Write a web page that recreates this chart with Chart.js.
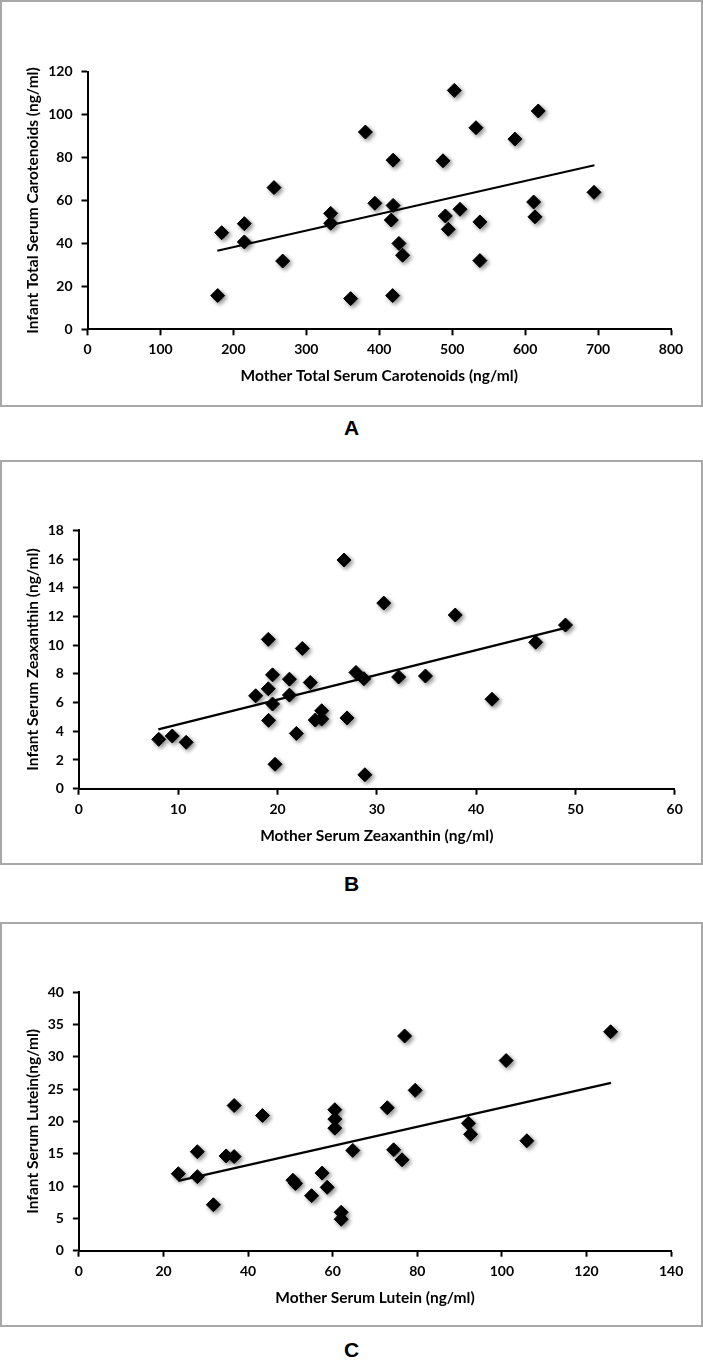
<!DOCTYPE html>
<html>
<head>
<meta charset="utf-8">
<script src="https://cdn.jsdelivr.net/npm/chart.js@4.4.0/dist/chart.umd.min.js"></script>
<style>
  body { margin: 0; width: 703px; height: 1360px; background: #fff; position: relative; overflow: hidden; }
  .box { position: absolute; left: 0; width: 703px; box-sizing: border-box; border: 2px solid #a8a8a8; }
  .box canvas { display: block; }
  .tag { position: absolute; left: 0; width: 703px; text-align: center; line-height: 24px;
         font: bold 21px "Liberation Sans", Arial, sans-serif; color: #000; }
</style>
</head>
<body>
<div class="box" style="top:0px;height:407px"><canvas id="chartA" width="699" height="403"></canvas></div>
<div class="tag" style="top:416px">A</div>
<div class="box" style="top:460px;height:405px"><canvas id="chartB" width="699" height="401"></canvas></div>
<div class="tag" style="top:872px">B</div>
<div class="box" style="top:922px;height:405px"><canvas id="chartC" width="699" height="401"></canvas></div>
<div class="tag" style="top:1338px">C</div>

<script>
// panel A - total carotenoids
const motherTotal = [178.5, 184, 215, 215, 255.7, 267.6, 333.4, 333.4, 360.8, 381, 394, 416.5, 419, 419, 418.4,
  427, 432, 487.4, 490.6, 494.7, 502.9, 510.7, 532.6, 538, 538, 586, 611.7, 613.5, 618, 694.4];
const infantTotal = [15.7, 45, 49.2, 40.7, 66, 31.8, 54, 49.4, 14.3, 91.9, 58.7, 50.9, 57.7, 78.8, 15.7,
  40, 34.5, 78.5, 52.8, 46.6, 111.3, 55.9, 93.9, 50, 32, 88.6, 59.3, 52.4, 101.7, 63.8];
const trendTotalX = [178, 695];
const trendTotalY = [36.6, 76.4];

// panel B - zeaxanthin
const motherZea = [8.04, 9.4, 10.8, 17.8, 19.07, 19.07, 19.1, 19.5, 19.5, 19.75, 21.2, 21.2, 21.9, 22.5, 23.3,
  23.8, 24.45, 24.45, 26.7, 27.0, 27.9, 28.7, 28.8, 30.7, 32.2, 34.9, 37.9, 41.6, 46.0, 49.0];
const infantZea = [3.44, 3.67, 3.23, 6.47, 10.4, 6.96, 4.76, 7.93, 5.9, 1.7, 7.63, 6.52, 3.85, 9.77, 7.4,
  4.78, 5.43, 4.85, 15.93, 4.93, 8.1, 7.66, 0.97, 12.93, 7.78, 7.85, 12.1, 6.23, 10.2, 11.4];
const trendZeaX = [8.0, 49.0];
const trendZeaY = [4.13, 11.2];

// panel C - lutein
const motherLut = [23.5, 28.0, 28.0, 31.8, 34.8, 36.7, 36.7, 43.4, 50.6, 51.2, 55.0, 57.5, 58.7, 60.5, 60.5,
  60.5, 62, 62, 64.75, 72.9, 74.4, 76.4, 77.0, 79.5, 92.1, 92.6, 101.0, 105.9, 125.7];
const infantLut = [11.9, 15.3, 11.45, 7.1, 14.65, 22.45, 14.55, 20.9, 10.9, 10.4, 8.5, 12.0, 9.8, 21.8, 20.35,
  18.95, 5.94, 4.86, 15.5, 22.1, 15.6, 14.05, 33.2, 24.8, 19.7, 18.0, 29.4, 17.0, 33.85];
const trendLutX = [23.5, 125.8];
const trendLutY = [10.8, 25.95];

const tickFont = { family: "Lato, 'Open Sans', sans-serif", size: 14, weight: "bold" };
const titleFont = { family: "Lato, 'Open Sans', sans-serif", size: 15.5, weight: "bold" };

// soft drop shadow under the diamonds
const diamondShadow = {
  id: "diamondShadow",
  beforeDatasetDraw(chart, args) {
    if (args.index !== 1) return;
    const ctx = chart.ctx;
    ctx.save();
    ctx.shadowColor = "rgba(0,0,0,0.45)";
    ctx.shadowBlur = 4;
    ctx.shadowOffsetX = 2;
    ctx.shadowOffsetY = 2;
  },
  afterDatasetDraw(chart, args) {
    if (args.index !== 1) return;
    chart.ctx.restore();
  },
};

function axis(min, max, step, title, titlePad, fit) {
  return {
    type: "linear",
    min: min,
    max: max,
    ticks: { stepSize: step, color: "#000", font: tickFont, padding: 0 },
    grid: { display: true, drawOnChartArea: false, drawTicks: true, tickLength: 6, tickWidth: 2, tickColor: "#000" },
    border: { display: true, color: "#000", width: 2 },
    title: { display: true, text: title, color: "#000", font: titleFont, padding: titlePad },
    afterFit: fit,
  };
}

function makeChart(id, xs, ys, tx, ty, cfg) {
  const points = xs.map((x, i) => ({ x: x, y: ys[i] }));
  const trend = tx.map((x, i) => ({ x: x, y: ty[i] }));

  const xAxis = axis(0, cfg.xMax, cfg.xStep, cfg.xTitle, { top: 0, bottom: cfg.xTitlePad },
    (s) => { s.height = 60; });
  xAxis.ticks.padding = 6;
  const yAxis = axis(0, cfg.yMax, cfg.yStep, cfg.yTitle, { top: cfg.yTitlePad, bottom: 0 },
    (s) => { s.width = cfg.yWidth; });
  yAxis.ticks.padding = 9;

  return new Chart(document.getElementById(id), {
    type: "scatter",
    data: {
      datasets: [
        {
          type: "line",
          data: trend,
          borderColor: "#000",
          borderWidth: 2.2,
          pointRadius: 0,
          fill: false,
          tension: 0,
        },
        {
          data: points,
          pointStyle: "rectRot",
          pointRadius: 7,
          backgroundColor: "#000",
          borderColor: "#000",
          borderWidth: 1,
        },
      ],
    },
    options: {
      responsive: false,
      animation: false,
      layout: { padding: { top: cfg.padTop, right: cfg.padRight, bottom: cfg.padBottom, left: 0 } },
      plugins: { legend: { display: false }, tooltip: { enabled: false } },
      scales: { x: xAxis, y: yAxis },
    },
    plugins: [diamondShadow],
  });
}

makeChart("chartA", motherTotal, infantTotal, trendTotalX, trendTotalY, {
  xMax: 800, xStep: 100, yMax: 120, yStep: 20,
  xTitle: "Mother Total Serum Carotenoids (ng/ml)",
  yTitle: "Infant Total Serum Carotenoids (ng/ml)",
  yWidth: 85.5, yTitlePad: 21.5, xTitlePad: 4,
  padTop: 69.7, padRight: 30, padBottom: 15.7,
});

makeChart("chartB", motherZea, infantZea, trendZeaX, trendZeaY, {
  xMax: 60, xStep: 10, yMax: 18, yStep: 2,
  xTitle: "Mother Serum Zeaxanthin (ng/ml)",
  yTitle: "Infant Serum Zeaxanthin (ng/ml)",
  yWidth: 76.9, yTitlePad: 21.5, xTitlePad: 3.7,
  padTop: 68.3, padRight: 26.3, padBottom: 14.3,
});

makeChart("chartC", motherLut, infantLut, trendLutX, trendLutY, {
  xMax: 140, xStep: 20, yMax: 40, yStep: 5,
  xTitle: "Mother Serum Lutein (ng/ml)",
  yTitle: "Infant Serum Lutein(ng/ml)",
  yWidth: 76.9, yTitlePad: 21.5, xTitlePad: 3.1,
  padTop: 68, padRight: 29.9, padBottom: 14.3,
});
</script>
</body>
</html>
